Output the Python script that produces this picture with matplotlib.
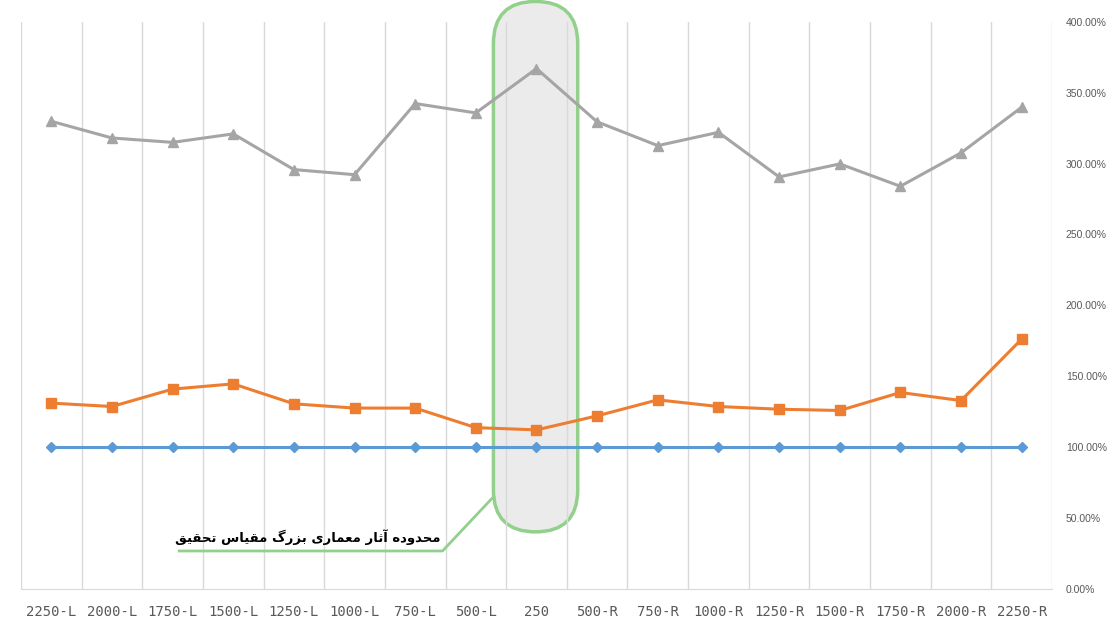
import matplotlib.pyplot as plt
from matplotlib.patches import FancyBboxPatch
from matplotlib.transforms import IdentityTransform
from matplotlib.ticker import PercentFormatter

categories = ["2250-L", "2000-L", "1750-L", "1500-L", "1250-L", "1000-L", "750-L", "500-L", "250",
              "500-R", "750-R", "1000-R", "1250-R", "1500-R", "1750-R", "2000-R", "2250-R"]
base = [1.0] * 17
orange = [1.309, 1.285, 1.408, 1.445, 1.304, 1.274, 1.274, 1.136, 1.120,
          1.219, 1.332, 1.285, 1.266, 1.257, 1.384, 1.327, 1.761]
gray = [3.299, 3.181, 3.150, 3.210, 2.958, 2.922, 3.424, 3.358, 3.671,
        3.295, 3.127, 3.221, 2.906, 2.998, 2.840, 3.076, 3.398]
label = "محدوده آثار معماری بزرگ مقیاس تحقیق"

# contextual forms: isolated, final, initial, medial (matplotlib does no shaping)
forms = {
    "ا": ("\uFE8D", "\uFE8E"), "آ": ("\uFE81", "\uFE82"),
    "د": ("\uFEA9", "\uFEAA"), "ر": ("\uFEAD", "\uFEAE"),
    "ز": ("\uFEAF", "\uFEB0"), "و": ("\uFEED", "\uFEEE"),
    "ب": ("\uFE8F", "\uFE90", "\uFE91", "\uFE92"),
    "ت": ("\uFE95", "\uFE96", "\uFE97", "\uFE98"),
    "ث": ("\uFE99", "\uFE9A", "\uFE9B", "\uFE9C"),
    "ح": ("\uFEA1", "\uFEA2", "\uFEA3", "\uFEA4"),
    "س": ("\uFEB1", "\uFEB2", "\uFEB3", "\uFEB4"),
    "ع": ("\uFEC9", "\uFECA", "\uFECB", "\uFECC"),
    "ق": ("\uFED5", "\uFED6", "\uFED7", "\uFED8"),
    "م": ("\uFEE1", "\uFEE2", "\uFEE3", "\uFEE4"),
    "ه": ("\uFEE9", "\uFEEA", "\uFEEB", "\uFEEC"),
    "ی": ("\uFBFC", "\uFBFD", "\uFBFE", "\uFBFF"),
    "گ": ("\uFB92", "\uFB93", "\uFB94", "\uFB95"),
}


def shape(text):
    out = []
    for i, ch in enumerate(text):
        if ch not in forms:
            out.append(ch)
            continue
        prev = text[i - 1] if i > 0 else " "
        nxt = text[i + 1] if i + 1 < len(text) else " "
        join_prev = prev in forms and len(forms[prev]) == 4
        join_next = nxt in forms and len(forms[ch]) == 4
        f = forms[ch]
        if join_prev and join_next:
            out.append(f[3])
        elif join_prev:
            out.append(f[1])
        elif join_next:
            out.append(f[2])
        else:
            out.append(f[0])
    return "".join(out)[::-1]


fig = plt.figure(figsize=(11.09, 6.21), dpi=100)
ax = fig.add_axes([0.0189, 0.0523, 0.9297, 0.9123])
x = list(range(len(categories)))

ax.plot(x, base, color="#5b9bd5", lw=2.2, marker="D", ms=5, zorder=4)
ax.plot(x, orange, color="#ed7d31", lw=2.2, marker="s", ms=7, zorder=4)
ax.plot(x, gray, color="#a5a5a5", lw=2.2, marker="^", ms=7, zorder=4)

ax.set_xlim(-0.5, len(categories) - 0.5)
ax.set_ylim(0, 4)
ax.set_xticks(x)
ax.set_xticklabels(categories, fontsize=10, color="#595959", family="DejaVu Sans Mono")
ax.set_xticks([i - 0.5 for i in range(len(categories) + 1)], minor=True)
ax.grid(which="minor", axis="x", color="#d9d9d9", lw=1, zorder=1.5)
ax.tick_params(axis="x", which="both", length=0, pad=12)

ax.yaxis.tick_right()
ax.set_yticks([i * 0.5 for i in range(9)])
ax.yaxis.set_major_formatter(PercentFormatter(1.0, decimals=2))
ax.tick_params(axis="y", length=0, pad=10, labelsize=7.5, labelcolor="#595959")
for t in ax.get_yticklabels():
    t.set_family("Liberation Sans")

for s in ["top", "left", "right"]:
    ax.spines[s].set_visible(False)
ax.spines["bottom"].set_color("#d9d9d9")

# highlighted zone around the 250 category
fig.canvas.draw()
(x0, y0), (x1, y1) = ax.transData.transform([(7.29, 0.40), (8.68, 4.145)])
capsule = FancyBboxPatch((x0, y0), x1 - x0, y1 - y0,
                         boxstyle="round,pad=0,rounding_size=%f" % ((x1 - x0) / 2),
                         transform=IdentityTransform(), facecolor="#ebebeb",
                         edgecolor="#92d08c", lw=2.5, zorder=1, clip_on=False)
ax.add_patch(capsule)

ax.plot([7.29, 6.45, 2.11], [0.647, 0.265, 0.265], color="#92d08c", lw=2, zorder=3, clip_on=False)
ax.text(6.42, 0.36, shape(label), ha="right", va="center", fontsize=9.5,
        fontweight="bold", family=["DejaVu Sans"], color="black", zorder=5)

plt.savefig("out.png", dpi=100)
